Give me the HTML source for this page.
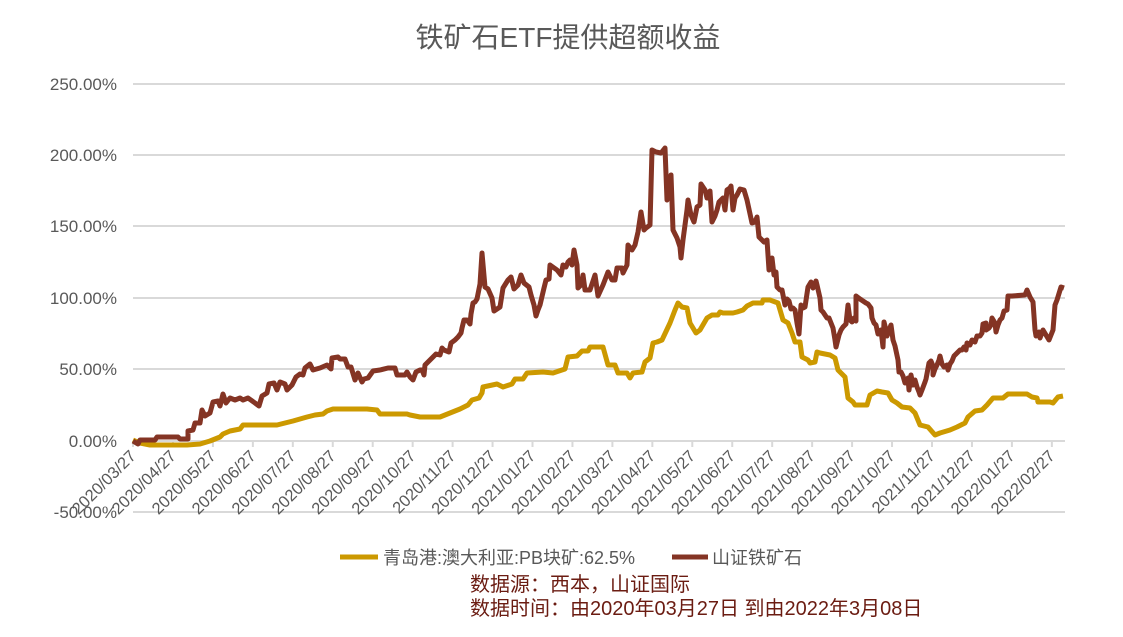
<!DOCTYPE html>
<html><head><meta charset="utf-8"><style>
html,body{margin:0;padding:0;background:#fff;}
svg{display:block;font-family:"Liberation Sans","Noto Sans CJK SC",sans-serif;}
</style></head><body>
<svg width="1123" height="637" viewBox="0 0 1123 637" xmlns="http://www.w3.org/2000/svg">
<rect width="1123" height="637" fill="#fff"/>
<text x="568" y="47" text-anchor="middle" font-size="28" fill="#595959">铁矿石ETF提供超额收益</text>
<g stroke="#d9d9d9" stroke-width="2">
<line x1="133" y1="84" x2="1065" y2="84"/>
<line x1="133" y1="155" x2="1065" y2="155"/>
<line x1="133" y1="226" x2="1065" y2="226"/>
<line x1="133" y1="298" x2="1065" y2="298"/>
<line x1="133" y1="369" x2="1065" y2="369"/>
<line x1="133" y1="512" x2="1065" y2="512"/>
<line x1="133" y1="441" x2="1065" y2="441"/>
</g>
<g stroke="#d9d9d9" stroke-width="2" id="ticks"></g>
<g font-size="17" fill="#595959" text-anchor="end">
<text x="117" y="90">250.00%</text>
<text x="117" y="161">200.00%</text>
<text x="117" y="232">150.00%</text>
<text x="117" y="304">100.00%</text>
<text x="117" y="375">50.00%</text>
<text x="117" y="447">0.00%</text>
<text x="117" y="518">-50.00%</text>
</g>
<g id="xl" font-size="16.5" fill="#595959" text-anchor="end"></g>
<polyline fill="none" stroke="#cc9900" stroke-width="5" stroke-linejoin="round" points="133,440 140,443 150,445 187,445 200,444 210,441 220,437 223,434 230,431 240,429 243,425 277,425 285,423 293,421 307,417 315,415 323,414 327,411 333,409 367,409 377,410 380,414 407,414 410,415 420,417 440,417 450,413 460,409 468,405 472,400 479,398 482,393 483,387 497,384 503,387 512,384 515,379 523,379 527,373 543,372 553,373 565,369 568,357 577,356 582,351 588,351 590,347 603,347 608,365 615,365 618,373 627,373 630,378 633,373 642,372 645,362 650,358 653,343 657,342 662,340 670,323 675,310 678,303 682,307 687,308 690,323 696,333 700,330 707,318 712,315 718,315 720,312 723,313 733,313 737,312 743,310 747,306 753,303 762,303 763,300 770,300 778,303 783,320 788,323 792,333 795,342 800,342 802,357 808,360 810,363 815,362 817,352 820,353 830,355 835,358 838,370 845,377 848,398 853,402 855,405 867,405 870,395 877,391 882,392 888,393 892,400 897,403 902,407 910,408 915,413 920,425 928,427 935,435 940,433 950,430 957,427 965,423 968,417 975,411 982,410 987,405 993,398 1003,398 1008,394 1027,394 1032,397 1037,398 1038,402 1050,402 1053,403 1058,397 1063,396"/>
<polyline fill="none" stroke="#843424" stroke-width="5" stroke-linejoin="round" points="133,441 138,444 140,440 155,440 157,437 178,437 180,439 188,439 188,431 193,430 195,423 200,423 202,410 205,416 210,413 213,402 218,401 220,406 223,394 226,403 230,398 235,400 240,398 243,400 248,398 255,403 259,406 262,396 267,393 269,384 274,383 277,390 280,382 285,384 287,390 292,385 296,377 300,374 303,375 305,368 310,364 313,370 320,368 327,365 331,369 332,358 338,357 340,359 345,359 348,367 351,367 355,380 358,373 362,382 364,379 368,378 373,371 380,370 388,368 395,368 397,375 405,375 407,372 410,377 413,380 416,372 420,370 422,370 424,375 425,365 430,360 436,354 440,355 442,348 444,350 449,352 451,343 455,340 458,337 461,333 462,328 464,320 467,320 470,324 471,314 473,303 475,302 477,299 480,284 482,253 485,287 488,289 492,298 494,311 497,309 500,307 503,288 508,280 511,277 514,289 518,285 521,275 524,283 529,287 531,295 534,305 536,316 538,310 540,305 544,288 546,280 549,279 550,265 557,270 561,275 563,265 566,267 568,262 570,260 572,265 574,250 577,265 578,288 581,285 583,275 585,290 590,290 595,275 598,296 603,285 608,272 612,280 615,280 617,268 622,268 623,273 627,265 628,245 632,250 635,245 638,232 641,212 644,230 646,228 650,225 652,150 656,152 661,153 665,148 667,200 670,180 671,175 673,230 677,238 680,247 681,258 683,240 687,210 688,200 691,215 694,222 697,207 700,205 701,184 705,190 707,198 708,198 710,191 712,222 715,216 717,210 719,202 723,198 725,210 727,190 730,188 731,186 733,210 735,198 737,195 740,189 744,190 747,200 752,223 755,222 757,217 759,237 762,240 764,242 767,240 769,270 772,258 774,275 776,272 777,287 780,290 782,290 785,305 787,299 789,301 791,309 793,308 795,310 797,323 799,334 801,305 803,308 805,307 808,287 811,282 813,288 816,281 817,285 820,298 821,310 823,312 827,318 829,318 833,328 835,340 836,347 839,335 841,330 843,327 846,324 848,305 850,320 852,322 854,318 856,321 856,296 860,299 866,303 868,304 871,308 872,318 874,323 876,325 878,334 881,330 883,347 884,322 886,330 887,336 891,325 893,340 895,346 898,360 899,372 901,372 903,376 905,383 908,378 909,390 911,375 913,385 915,380 917,387 919,392 920,395 922,390 925,382 926,379 929,363 931,361 933,366 933,375 935,369 937,365 939,360 940,356 942,364 944,367 947,365 948,370 950,364 952,361 954,356 955,355 957,353 960,350 962,350 964,347 966,350 967,343 970,345 972,340 975,342 977,336 980,336 982,333 983,324 986,323 986,330 989,328 991,325 992,318 995,323 996,332 998,325 1000,320 1002,318 1004,311 1007,310 1008,296 1012,296 1025,295 1027,290 1030,297 1033,302 1035,330 1036,336 1039,332 1040,338 1043,330 1046,335 1049,340 1053,330 1055,305 1057,300 1061,287 1064,288"/>
<line x1="340" y1="557" x2="378" y2="557" stroke="#cc9900" stroke-width="5"/>
<text x="383" y="564" font-size="18" fill="#595959">青岛港:澳大利亚:PB块矿:62.5%</text>
<line x1="672" y1="557" x2="708" y2="557" stroke="#843424" stroke-width="5"/>
<text x="712" y="564" font-size="18" fill="#595959">山证铁矿石</text>
<text x="470" y="591" font-size="20" fill="#6b1c12">数据源：西本，山证国际</text>
<text x="470" y="615" font-size="20" fill="#6b1c12">数据时间：由2020年03月27日 到由2022年3月08日</text>
<script>
(function(){
var ns="http://www.w3.org/2000/svg";
var t=document.getElementById("ticks"),xl=document.getElementById("xl");
var labels=[];
for(var i=0;i<24;i++){var y=2020,m=3+i;while(m>12){m-=12;y++;}labels.push(y+"/"+(m<10?"0"+m:m)+"/27");}
for(var i=0;i<24;i++){
var x=133+i*39.95;
var l=document.createElementNS(ns,"line");l.setAttribute("x1",x);l.setAttribute("x2",x);l.setAttribute("y1",441);l.setAttribute("y2",447);t.appendChild(l);
var tx=document.createElementNS(ns,"text");tx.setAttribute("transform","translate("+(x+4)+",457) rotate(-45)");tx.textContent=labels[i];xl.appendChild(tx);
}
})();
</script>
</svg>
</body></html>
